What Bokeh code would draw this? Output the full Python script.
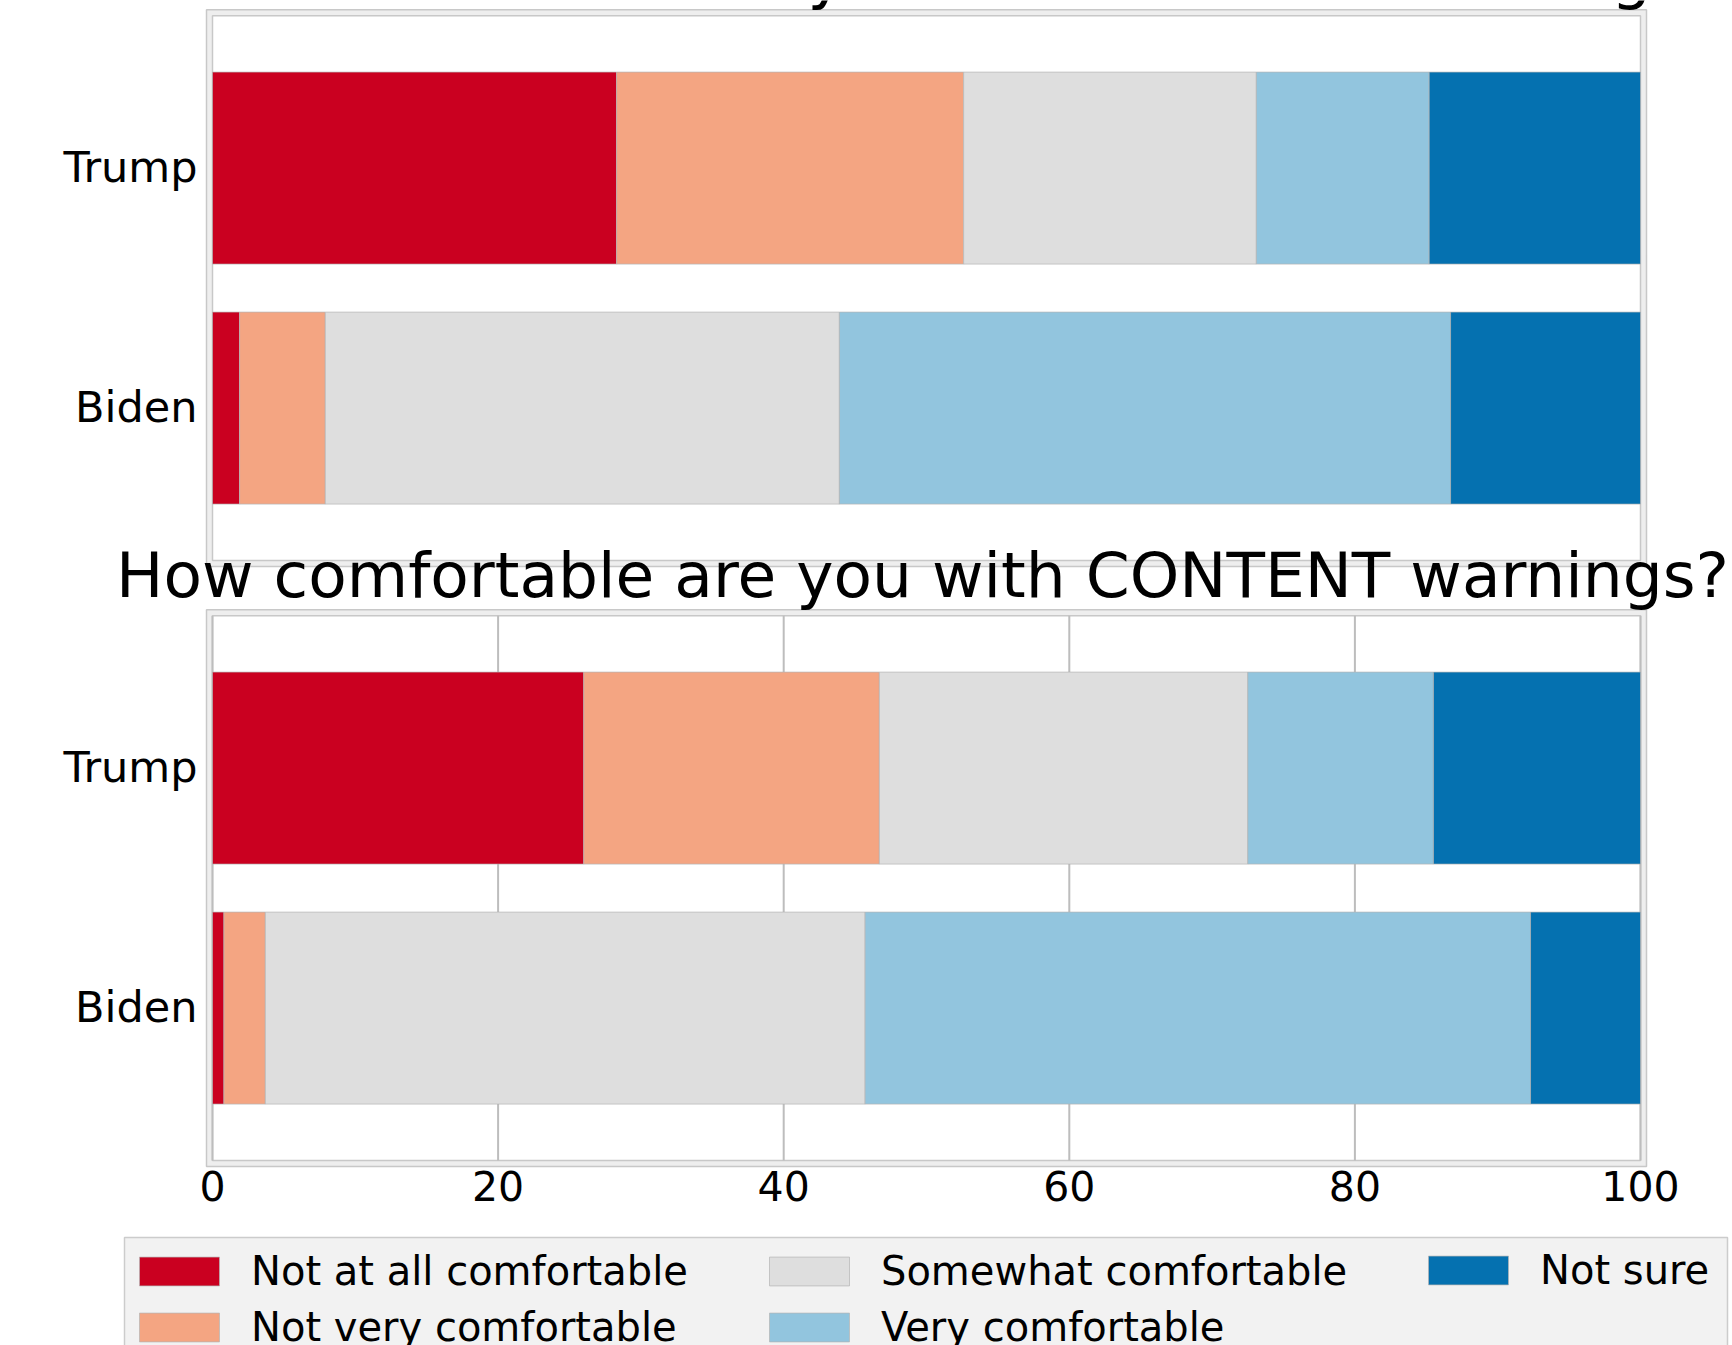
from bokeh.plotting import figure
from bokeh.models import ColumnDataSource, Range1d, Legend, LegendItem
from bokeh.core.properties import value
from bokeh.embed import file_html
from bokeh.resources import INLINE

# ---------------- data ----------------
categories = ["Trump", "Biden"]
responses = ["Not at all comfortable", "Not very comfortable",
             "Somewhat comfortable", "Very comfortable", "Not sure"]
colors = ["#ca0020", "#f4a582", "#dedede", "#92c5de", "#0571b0"]

# top panel (its title is cut off at the top of the reference)
top_trump = [28.3, 24.3, 20.5, 12.1, 14.8]
top_biden = [1.9, 6.0, 36.0, 42.8, 13.3]
# bottom panel: CONTENT warnings
content_trump = [26.0, 20.7, 25.8, 13.0, 14.5]
content_biden = [0.8, 2.9, 42.0, 46.6, 7.7]

x_ticks = [0, 20, 40, 60, 80, 100]
x_tick_labels = ["0", "20", "40", "60", "80", "100"]
top_title = "How comfortable are you with TRIGGER warnings?"
bottom_title = "How comfortable are you with CONTENT warnings?"

# ---------------- layout constants ----------------
W, H = 1732, 1345
FONT = value("DejaVu Sans")
PX_X = 14.28            # pixels per x unit
PX_Y = 240.0            # pixels per category step
X0_PX = 212             # pixel column of x = 0
Y0_PX = 1007.6          # pixel row of the bottom panel's lower category
BAR_H = 0.8
PAD_IN = 0.635          # inner frame extends beyond category centres
BAND = 0.025            # grey band thickness (y units)
XBAND = 6 / PX_X        # grey band thickness (x units)
OFFSET_TOP = 600 / PX_Y # vertical offset of the top panel
local_pos = {"Trump": 1.0, "Biden": 0.0}

x_start = -X0_PX / PX_X
x_end = (W - X0_PX) / PX_X
y_start = -(H - Y0_PX) / PX_Y
y_end = Y0_PX / PX_Y

ypos = [OFFSET_TOP + local_pos["Trump"], OFFSET_TOP + local_pos["Biden"],
        local_pos["Trump"], local_pos["Biden"]]
ylab = [categories[0], categories[1], categories[0], categories[1]]
rows = [top_trump, top_biden, content_trump, content_biden]

data = {"y": ypos}
for i, r in enumerate(responses):
    data[r] = [row[i] for row in rows]
src = ColumnDataSource(data)

p = figure(width=W, height=H, output_backend="svg", toolbar_location=None,
           title=None, x_axis_location=None, y_axis_location=None,
           x_range=Range1d(x_start, x_end), y_range=Range1d(y_start, y_end),
           min_border=0)
p.min_border_left = p.min_border_right = p.min_border_top = p.min_border_bottom = 0
p.outline_line_color = None
p.grid.visible = False
p.background_fill_color = "white"
p.border_fill_color = "white"

# panel frames
for off in [0.0, OFFSET_TOP]:
    p.quad(left=-XBAND, right=100 + XBAND,
           bottom=off - PAD_IN - BAND, top=off + 1.0 + PAD_IN + BAND,
           fill_color="#eeeeee", line_color="#c8c8c8", line_width=1.5)
    p.quad(left=0, right=100, bottom=off - PAD_IN, top=off + 1.0 + PAD_IN,
           fill_color="white", line_color="#c8c8c8", line_width=1.5)

# grid lines (bottom panel only)
p.segment(x0=x_ticks, x1=x_ticks, y0=[-PAD_IN] * len(x_ticks),
          y1=[1.0 + PAD_IN] * len(x_ticks), line_color="#bdbdbd", line_width=2)

bars = p.hbar_stack(responses, y="y", height=BAR_H, color=colors, source=src,
                    line_color="#b4b4b4", line_width=0.7)

# category labels (y ticks)
p.text(x=[0] * len(ypos), y=ypos, text=ylab, text_align="right",
       text_baseline="alphabetic", x_offset=-15, y_offset=-1,
       text_font=FONT, text_font_size="43px", text_color="black")

# x tick labels
outer_bottom = -PAD_IN - BAND
p.text(x=x_ticks, y=[outer_bottom] * len(x_ticks), text=x_tick_labels,
       text_align="center", text_baseline="alphabetic", y_offset=19.5,
       text_font=FONT, text_font_size="41px", text_color="black")

# titles
p.text(x=[49.72], y=[1.0 + PAD_IN + BAND], text=[bottom_title], text_align="center",
       text_baseline="alphabetic", y_offset=-34.5,
       text_font=FONT, text_font_size="63px", text_color="black")
p.text(x=[49.72], y=[OFFSET_TOP + 1.0 + PAD_IN + BAND], text=[top_title],
       text_align="center", text_baseline="alphabetic", y_offset=-34.5,
       text_font=FONT, text_font_size="63px", text_color="black")

# legend box (page pixels converted to data units)
LEG_LEFT, LEG_RIGHT, LEG_TOP = 124, 1727, 1237
p.quad(left=(LEG_LEFT - X0_PX) / PX_X, right=(LEG_RIGHT - X0_PX) / PX_X,
       top=(Y0_PX - LEG_TOP) / PX_Y, bottom=y_start - 0.2,
       fill_color="#f2f2f2", line_color="#cccccc", line_width=1.5)

# legend: three columns, filled column by column
ROW_H, ROW_GAP = 47, 10
ROWS_TOP = 1246
col_x = [129, 759, 1418]
columns = [[0, 1], [2, 3], [4]]
for cx, idxs in zip(col_x, columns):
    items = [LegendItem(label=responses[i], renderers=[bars[i]]) for i in idxs]
    h = len(idxs) * ROW_H + (len(idxs) - 1) * ROW_GAP
    lg = Legend(items=items, location=(cx, H - ROWS_TOP - h),
                orientation="vertical", margin=0, padding=0, spacing=ROW_GAP,
                glyph_width=100, glyph_height=36, label_standoff=22,
                label_text_font="DejaVu Sans", label_text_font_size="40px",
                label_text_color="black", background_fill_alpha=0.0,
                border_line_color=None)
    p.add_layout(lg)

open("out.html", "w").write(file_html(p, INLINE))
